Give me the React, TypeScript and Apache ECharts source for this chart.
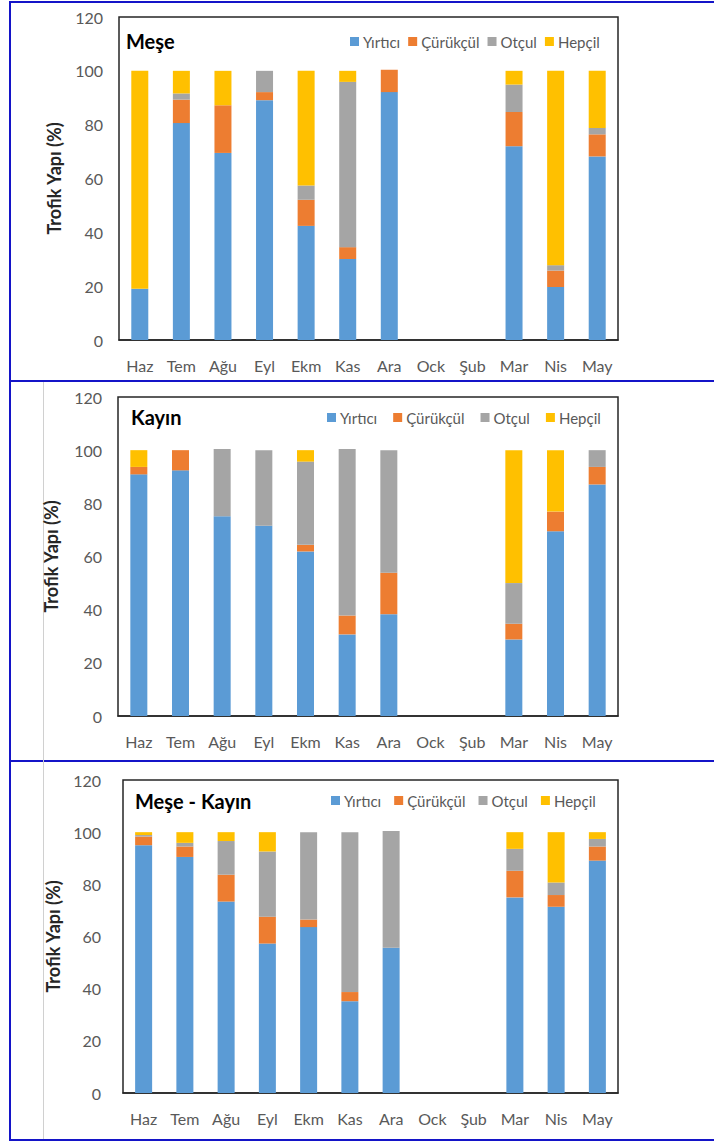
import React, { useEffect, useRef } from "react";
import * as echarts from "echarts";

const categories = ["Haz", "Tem", "Ağu", "Eyl", "Ekm", "Kas", "Ara", "Ock", "Şub", "Mar", "Nis", "May"];
const seriesNames = ["Yırtıcı", "Çürükçül", "Otçul", "Hepçil"];
const panelTitles = ["Meşe", "Kayın", "Meşe - Kayın"];
const yTicks = [0, 20, 40, 60, 80, 100, 120];
const yAxisTitle = "Trofik Yapı (%)";

// Meşe
const meseYirtici = [19, 80.6, 69.5, 89.1, 42.4, 30.1, 92.1, 0, 0, 72, 19.7, 68.2];
const meseCurukcul = [0, 8.7, 17.7, 3, 9.7, 4.4, 8.3, 0, 0, 12.7, 6.1, 8.2];
const meseOtcul = [0, 2.3, 0, 7.9, 5.3, 61.4, 0, 0, 0, 10.2, 2, 2.4];
const meseHepcil = [81, 8.4, 12.8, 0, 42.6, 4.1, 0, 0, 0, 5.1, 72.2, 21.2];

// Kayın
const kayinYirtici = [90.9, 92.4, 75.1, 71.6, 61.9, 30.7, 38.3, 0, 0, 28.8, 69.5, 87.1];
const kayinCurukcul = [2.8, 7.6, 0, 0, 2.5, 7.1, 15.6, 0, 0, 5.9, 7.4, 6.6];
const kayinOtcul = [0, 0, 25.3, 28.4, 31.3, 62.6, 46.1, 0, 0, 15.3, 0, 6.3];
const kayinHepcil = [6.3, 0, 0, 0, 4.3, 0, 0, 0, 0, 50, 23.1, 0];

// Meşe - Kayın
const ikisiYirtici = [95, 90.5, 73.4, 57.3, 63.6, 35.2, 55.7, 0, 0, 75, 71.4, 89.1];
const ikisiCurukcul = [3.3, 4, 10.3, 10.3, 2.9, 3.5, 0, 0, 0, 10.2, 4.5, 5.4];
const ikisiOtcul = [0.6, 1.4, 12.9, 25, 33.5, 61.3, 44.7, 0, 0, 8.4, 4.8, 2.9];
const ikisiHepcil = [1.1, 4.1, 3.4, 7.4, 0, 0, 0, 0, 0, 6.4, 19.3, 2.6];

const panelData = [
  [meseYirtici, meseCurukcul, meseOtcul, meseHepcil],
  [kayinYirtici, kayinCurukcul, kayinOtcul, kayinHepcil],
  [ikisiYirtici, ikisiCurukcul, ikisiOtcul, ikisiHepcil],
];

const colors = ["#5B9BD5", "#ED7D31", "#A5A5A5", "#FFC000"];
const FONT = "Lato, 'Open Sans', sans-serif";
const TEXT = "#595959";

// layout per panel
const grids = [
  { left: 119, right: 618, top: 17, bottom: 340 },
  { left: 118, right: 618, top: 397, bottom: 716 },
  { left: 123, right: 618, top: 780, bottom: 1093 },
];
const nameGaps = [56, 58, 60];
const labelMargins = [16, 16, 22];
const titlePos = [
  { x: 126, y: 43 },
  { x: 131, y: 419 },
  { x: 135, y: 803 },
];
const legendPos = [
  { left: 350, y: 43, gap: 8 },
  { left: 327, y: 419, gap: 16 },
  { left: 331, y: 802, gap: 13 },
];

export default function App() {
  const ref = useRef<HTMLDivElement>(null);
  useEffect(() => {
    if (!ref.current) return;
    const chart = echarts.init(ref.current, undefined, { renderer: "svg" });
    const W = 714;
    const blue = "#1414C8";

    const option: any = {
      animation: false,
      backgroundColor: "#ffffff",
      textStyle: { fontFamily: FONT },
      title: panelTitles.map((t, i) => ({
        text: t,
        left: titlePos[i].x,
        top: titlePos[i].y - 12,
        padding: 0,
        textStyle: { fontFamily: FONT, fontWeight: "bold", fontSize: 20, color: "#000" },
      })),
      legend: legendPos.map((p) => ({
        data: seriesNames,
        left: p.left,
        top: p.y - 9,
        padding: 0,
        itemWidth: 9,
        itemHeight: 9,
        itemGap: p.gap,
        icon: "rect",
        textStyle: { fontFamily: FONT, fontSize: 15, color: TEXT, padding: [0, 0, 0, -1] },
      })),
      grid: grids.map((g) => ({
        left: g.left,
        top: g.top,
        width: g.right - g.left,
        height: g.bottom - g.top,
        show: true,
        borderColor: "#262626",
        borderWidth: 1.5,
        containLabel: false,
      })),
      xAxis: grids.map((_, i) => ({
        type: "category",
        gridIndex: i,
        data: categories,
        axisTick: { show: false },
        axisLine: { show: true, lineStyle: { color: "#262626", width: 1.5 } },
        axisLabel: { fontFamily: FONT, fontSize: 16, color: TEXT, margin: 17, interval: 0 },
      })),
      yAxis: grids.map((_, i) => ({
        type: "value",
        gridIndex: i,
        min: yTicks[0],
        max: yTicks[yTicks.length - 1],
        interval: 20,
        name: yAxisTitle,
        nameLocation: "middle",
        nameGap: nameGaps[i],
        nameRotate: 90,
        nameTextStyle: { fontFamily: FONT, fontWeight: "bold", fontSize: 18, color: "#262626" },
        axisLine: { show: false },
        axisTick: { show: false },
        splitLine: { show: false },
        axisLabel: { fontFamily: FONT, fontSize: 16, color: TEXT, margin: labelMargins[i] },
      })),
      series: panelData.flatMap((arrs, pi) =>
        arrs.map((vals, si) => ({
          type: "bar",
          name: seriesNames[si],
          xAxisIndex: pi,
          yAxisIndex: pi,
          stack: "panel" + pi,
          barWidth: 17,
          data: vals,
          itemStyle: { color: colors[si] },
        }))
      ),
      graphic: [
        { type: "line", shape: { x1: 10, y1: 2, x2: W, y2: 2 }, style: { stroke: blue, lineWidth: 2 } },
        { type: "line", shape: { x1: 10, y1: 381, x2: W, y2: 381 }, style: { stroke: blue, lineWidth: 2 } },
        { type: "line", shape: { x1: 10, y1: 761, x2: W, y2: 761 }, style: { stroke: blue, lineWidth: 2 } },
        { type: "line", shape: { x1: 10, y1: 1140, x2: W, y2: 1140 }, style: { stroke: blue, lineWidth: 2 } },
        { type: "line", shape: { x1: 10, y1: 1, x2: 10, y2: 1141 }, style: { stroke: blue, lineWidth: 2 } },
        { type: "line", shape: { x1: 43.5, y1: 382, x2: 43.5, y2: 1139 }, style: { stroke: "#d0d0d0", lineWidth: 1 } },
      ],
    };
    chart.setOption(option);
    return () => chart.dispose();
  }, []);
  return (
    <div
      ref={ref}
      style={{ position: "absolute", left: 0, top: 0, width: 714, height: 1142, background: "#fff" }}
    />
  );
}
